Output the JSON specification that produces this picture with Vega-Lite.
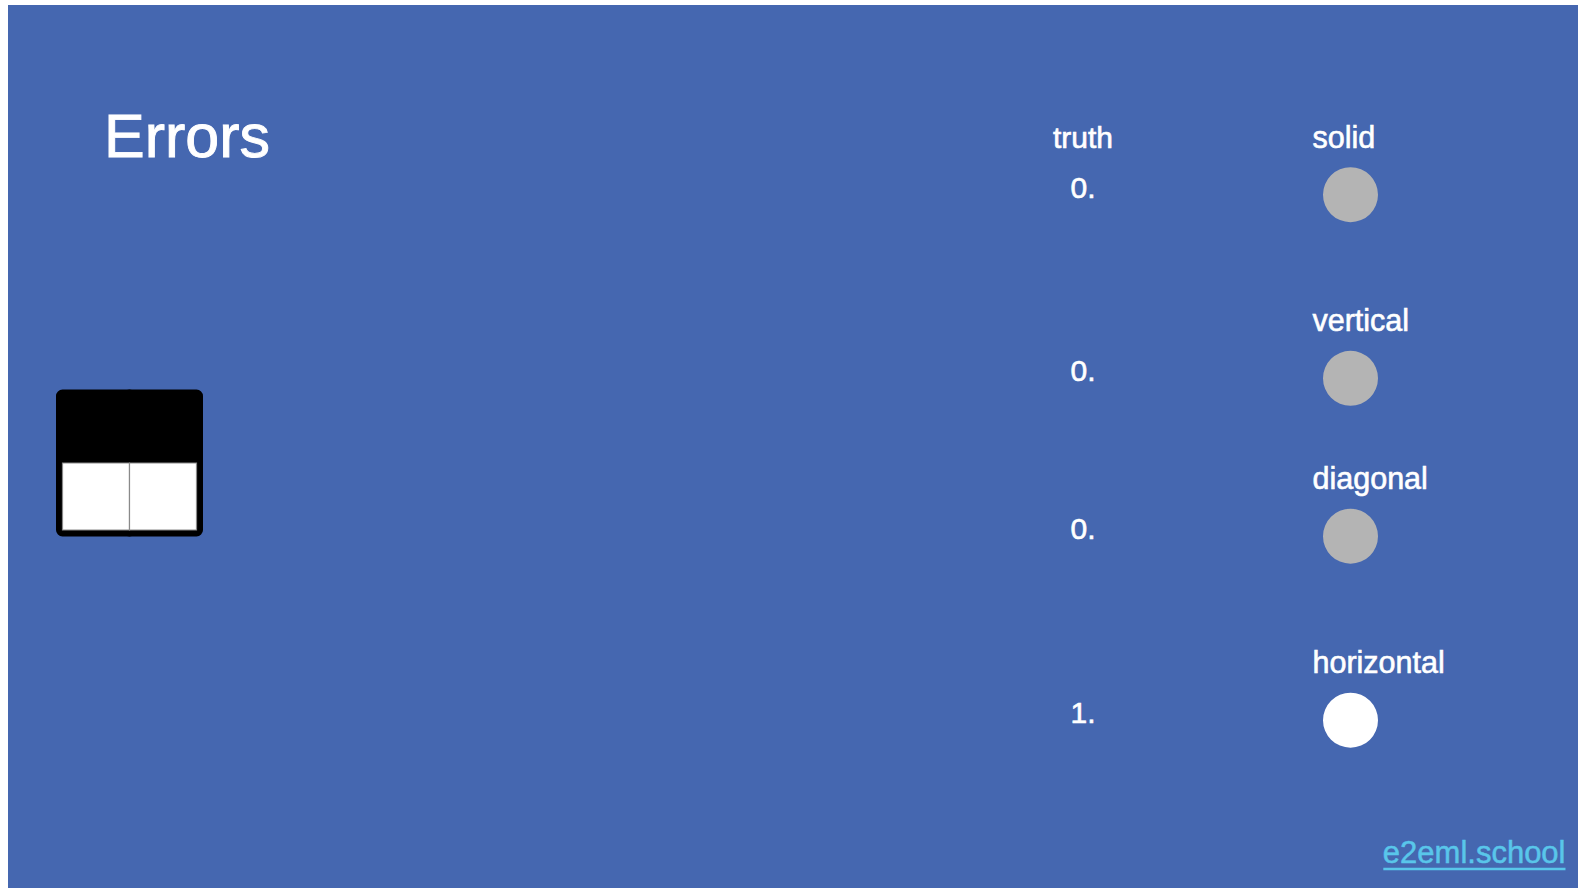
{
  "$schema": "https://vega.github.io/schema/vega-lite/v6.json",
  "width": 1570,
  "height": 883,
  "padding": {"left": 8, "top": 5, "right": 0, "bottom": 0},
  "autosize": {"type": "none"},
  "background": "#ffffff",
  "config": {
    "view": {"fill": "#4567B0", "stroke": null},
    "text": {"font": "Liberation Sans"}
  },
  "layer": [
    {
      "data": {"values": [{"title": "Errors"}]},
      "mark": {"type": "text", "align": "left", "baseline": "alphabetic", "fontSize": 61, "color": "#ffffff", "stroke": "#ffffff", "strokeWidth": 0.9, "font": "Liberation Sans"},
      "encoding": {
        "x": {"field": "title", "type": "nominal", "scale": {"type": "point", "range": [96, 96], "padding": 0}, "axis": null},
        "y": {"field": "title", "type": "nominal", "scale": {"type": "point", "range": [152, 152], "padding": 0}, "axis": null},
        "text": {"field": "title"}
      }
    },
    {
      "data": {"values": [
        {"r": 0, "c": 0, "v": -1},
        {"r": 0, "c": 1, "v": -1},
        {"r": 1, "c": 0, "v": 1},
        {"r": 1, "c": 1, "v": 1}
      ]},
      "encoding": {
        "x": {"field": "c", "type": "ordinal", "scale": {"type": "band", "range": [54.5, 188.5], "paddingInner": 0, "paddingOuter": 0}, "axis": null},
        "y": {"field": "r", "type": "ordinal", "scale": {"type": "band", "range": [391, 525], "paddingInner": 0, "paddingOuter": 0}, "axis": null}
      },
      "layer": [
        {"mark": {"type": "rect", "fill": "#000000", "stroke": "#000000", "strokeWidth": 13, "strokeJoin": "round"}},
        {
          "mark": {"type": "rect", "strokeWidth": 1.2},
          "encoding": {
            "fill": {"field": "v", "type": "quantitative", "scale": {"domain": [-1, 1], "range": ["#000000", "#ffffff"]}, "legend": null},
            "stroke": {"field": "v", "type": "quantitative", "scale": {"domain": [-1, 1], "range": ["#000000", "#8a8a8a"]}, "legend": null}
          }
        }
      ]
    },
    {
      "data": {"values": [
        {"feature": "solid", "row": 0, "truth": "0."},
        {"feature": "vertical", "row": 1, "truth": "0."},
        {"feature": "diagonal", "row": 2, "truth": "0."},
        {"feature": "horizontal", "row": 3, "truth": "1."}
      ]},
      "encoding": {
        "y": {"field": "row", "type": "quantitative", "scale": {"domain": [0, 1, 2, 3], "range": [189.7, 373.3, 531.2, 715.2]}, "axis": null}
      },
      "layer": [
        {
          "mark": {"type": "text", "align": "center", "baseline": "alphabetic", "dy": 2.8, "fontSize": 30, "color": "#ffffff", "stroke": "#ffffff", "strokeWidth": 0.6},
          "encoding": {
            "x": {"datum": "truth", "type": "nominal", "scale": {"type": "point", "domain": ["truth", "output"], "range": [1075, 1342.5], "padding": 0}, "axis": null},
            "text": {"field": "truth"}
          }
        },
        {
          "data": {"values": [{"header": "truth", "row": 0}]},
          "mark": {"type": "text", "align": "center", "baseline": "alphabetic", "dy": -47, "fontSize": 30, "color": "#ffffff", "stroke": "#ffffff", "strokeWidth": 0.6},
          "encoding": {
            "x": {"datum": "truth", "type": "nominal"},
            "text": {"field": "header"}
          }
        },
        {
          "mark": {"type": "text", "align": "left", "baseline": "alphabetic", "dx": -38, "dy": -47, "fontSize": 30.5, "color": "#ffffff", "stroke": "#ffffff", "strokeWidth": 0.6},
          "encoding": {
            "x": {"datum": "output", "type": "nominal"},
            "text": {"field": "feature"}
          }
        },
        {
          "mark": {"type": "point", "shape": "circle", "filled": true, "size": 3025, "opacity": 1, "strokeWidth": 0},
          "encoding": {
            "x": {"datum": "output", "type": "nominal"},
            "color": {"field": "truth", "type": "nominal", "scale": {"domain": ["0.", "1."], "range": ["#b4b4b4", "#ffffff"]}, "legend": null}
          }
        }
      ]
    },
    {
      "data": {"values": [{"link": "e2eml.school"}]},
      "layer": [
        {
          "mark": {"type": "text", "align": "right", "baseline": "alphabetic", "fontSize": 31, "color": "#59C6EA", "stroke": "#59C6EA", "strokeWidth": 0.5},
          "encoding": {
            "x": {"datum": "end", "type": "nominal", "scale": {"type": "point", "domain": ["start", "end"], "range": [1375.3, 1557.5], "padding": 0}, "axis": null},
            "y": {"datum": "text", "type": "nominal", "scale": {"type": "point", "domain": ["text", "underline"], "range": [857.5, 864], "padding": 0}, "axis": null},
            "text": {"field": "link"}
          }
        },
        {
          "mark": {"type": "rule", "color": "#59C6EA", "strokeWidth": 2.5},
          "encoding": {
            "x": {"datum": "start", "type": "nominal"},
            "x2": {"datum": "end"},
            "y": {"datum": "underline", "type": "nominal"}
          }
        }
      ]
    }
  ],
  "resolve": {"scale": {"x": "independent", "y": "independent", "color": "independent", "fill": "independent", "stroke": "independent"}}
}
